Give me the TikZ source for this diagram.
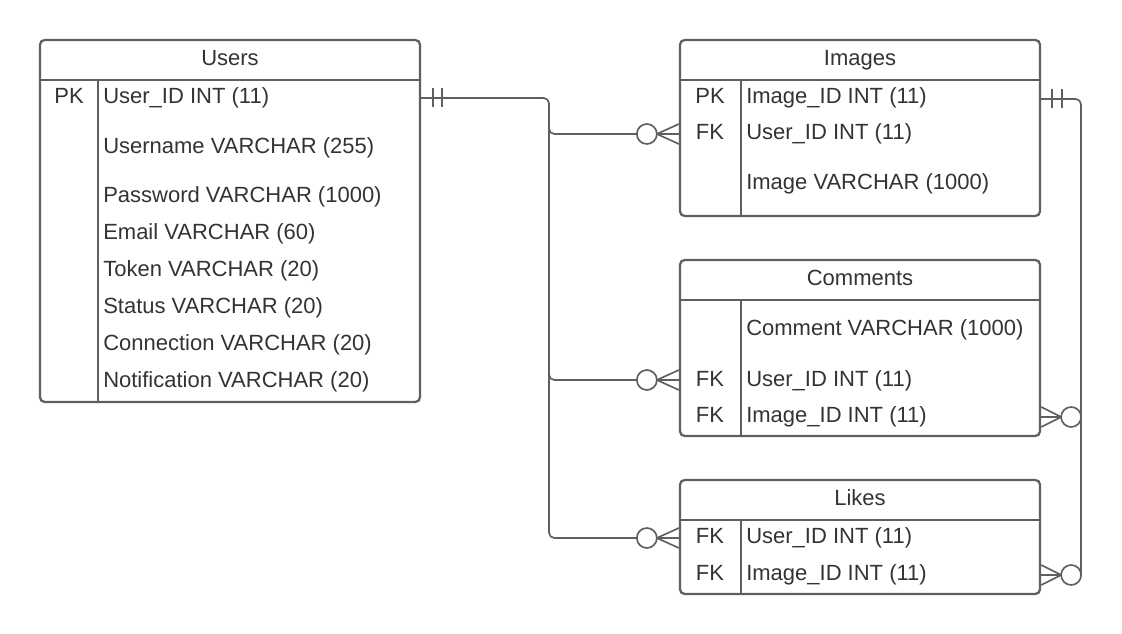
\documentclass[tikz,border=0pt]{standalone}
\usepackage{fontspec}
\setmainfont{Liberation Sans}
\usetikzlibrary{fit,calc}
\definecolor{ln}{HTML}{5F5F5F}
\definecolor{tx}{HTML}{333333}
\tikzset{
  tbl/.style={draw=ln, line width=1.7pt, rounded corners=3.5pt, inner sep=0pt},
  sepline/.style={draw=ln, line width=1.7pt},
  txt/.style={text=tx, font=\fontsize{16.5}{19}\selectfont, inner sep=0pt},
  ttl/.style={txt, anchor=base},
  fld/.style={txt, anchor=base west},
  keyf/.style={txt, anchor=base},
  conn/.style={draw=ln, line width=1.25pt, rounded corners=4pt},
  foot/.style={draw=ln, line width=1.25pt},
  ring/.style={draw=ln, line width=1.25pt, fill=white},
}
\begin{document}
\begin{tikzpicture}[x=0.75pt,y=-0.75pt]
\useasboundingbox (0,0) rectangle (1122,634);

% ---------- Users ----------
\node[tbl, fit={(40,40) (420,402)}] (users) {};
\draw[sepline] (40,80) -- (420,80);
\draw[sepline] (98,80) -- (98,402);
\node[ttl] (usersT) at (230,66) {Users};
\node[keyf] (uk1) at (69,104) {PK};
\node[fld] (u1) at (103,104) {User\_ID INT (11)};
\node[fld] (u2) at (103,154) {Username VARCHAR (255)};
\node[fld] (u3) at (103,203) {Password VARCHAR (1000)};
\node[fld] (u4) at (103,240) {Email VARCHAR (60)};
\node[fld] (u5) at (103,277) {Token VARCHAR (20)};
\node[fld] (u6) at (103,314) {Status VARCHAR (20)};
\node[fld] (u7) at (103,351) {Connection VARCHAR (20)};
\node[fld] (u8) at (103,388) {Notification VARCHAR (20)};

% ---------- Images ----------
\node[tbl, fit={(680,40) (1040,216)}] (images) {};
\draw[sepline] (680,80) -- (1040,80);
\draw[sepline] (741,80) -- (741,216);
\node[ttl] (imagesT) at (860,66) {Images};
\node[keyf] (ik1) at (710,104) {PK};
\node[keyf] (ik2) at (710,140) {FK};
\node[fld] (i1) at (746,104) {Image\_ID INT (11)};
\node[fld] (i2) at (746,140) {User\_ID INT (11)};
\node[fld] (i3) at (746,190) {Image VARCHAR (1000)};

% ---------- Comments ----------
\node[tbl, fit={(680,260) (1040,436)}] (comments) {};
\draw[sepline] (680,300) -- (1040,300);
\draw[sepline] (741,300) -- (741,436);
\node[ttl] (commentsT) at (860,286) {Comments};
\node[fld] (c1) at (746,336) {Comment VARCHAR (1000)};
\node[keyf] (ck2) at (710,387) {FK};
\node[keyf] (ck3) at (710,423) {FK};
\node[fld] (c2) at (746,387) {User\_ID INT (11)};
\node[fld] (c3) at (746,423) {Image\_ID INT (11)};

% ---------- Likes ----------
\node[tbl, fit={(680,480) (1040,594)}] (likes) {};
\draw[sepline] (680,520) -- (1040,520);
\draw[sepline] (741,520) -- (741,594);
\node[ttl] (likesT) at (860,506) {Likes};
\node[keyf] (lk1) at (710,544) {FK};
\node[keyf] (lk2) at (710,581) {FK};
\node[fld] (l1) at (746,544) {User\_ID INT (11)};
\node[fld] (l2) at (746,581) {Image\_ID INT (11)};

% ---------- connector coordinates ----------
\coordinate (uOut) at (users.east |- 0,98);
\coordinate (iIn)  at (images.west |- 0,134);
\coordinate (cIn)  at (comments.west |- 0,380);
\coordinate (lIn)  at (likes.west |- 0,538);
\coordinate (iOut) at (images.east |- 0,99);
\coordinate (cIn2) at (comments.east |- 0,417);
\coordinate (lIn2) at (likes.east |- 0,575);

% ---------- Users -> Images / Comments / Likes ----------
\draw[conn] (uOut) -- (549,98) -- (549,538) -- ($(lIn)+(-42,0)$);
\draw[conn] (549,124) -- (549,134) -- ($(iIn)+(-42,0)$);
\draw[conn] (549,370) -- (549,380) -- ($(cIn)+(-42,0)$);
% one-and-only-one marks
\draw[foot] ($(uOut)+(12,-9.5)$) -- ($(uOut)+(12,9.5)$);
\draw[foot] ($(uOut)+(21,-9.5)$) -- ($(uOut)+(21,9.5)$);
% crow's feet with zero
\foreach \p in {iIn,cIn,lIn}{
  \draw[foot] ($(\p)+(-22,0)$) -- (\p);
  \draw[foot] ($(\p)+(-22,0)$) -- ($(\p)+(0,-10)$);
  \draw[foot] ($(\p)+(-22,0)$) -- ($(\p)+(0,10)$);
  \draw[ring] ($(\p)+(-32,0)$) circle[radius=7.5pt];
}

% ---------- Images -> Comments / Likes ----------
\draw[conn] (iOut) -- (1081,99) -- (1081,575);
\draw[foot] ($(iOut)+(11,-9.5)$) -- ($(iOut)+(11,9.5)$);
\draw[foot] ($(iOut)+(21,-9.5)$) -- ($(iOut)+(21,9.5)$);
\foreach \p in {cIn2,lIn2}{
  \draw[foot] ($(\p)+(20,0)$) -- (\p);
  \draw[foot] ($(\p)+(20,0)$) -- ($(\p)+(0,-10)$);
  \draw[foot] ($(\p)+(20,0)$) -- ($(\p)+(0,10)$);
  \draw[ring] ($(\p)+(30,0)$) circle[radius=7.5pt];
}
\end{tikzpicture}
\end{document}
